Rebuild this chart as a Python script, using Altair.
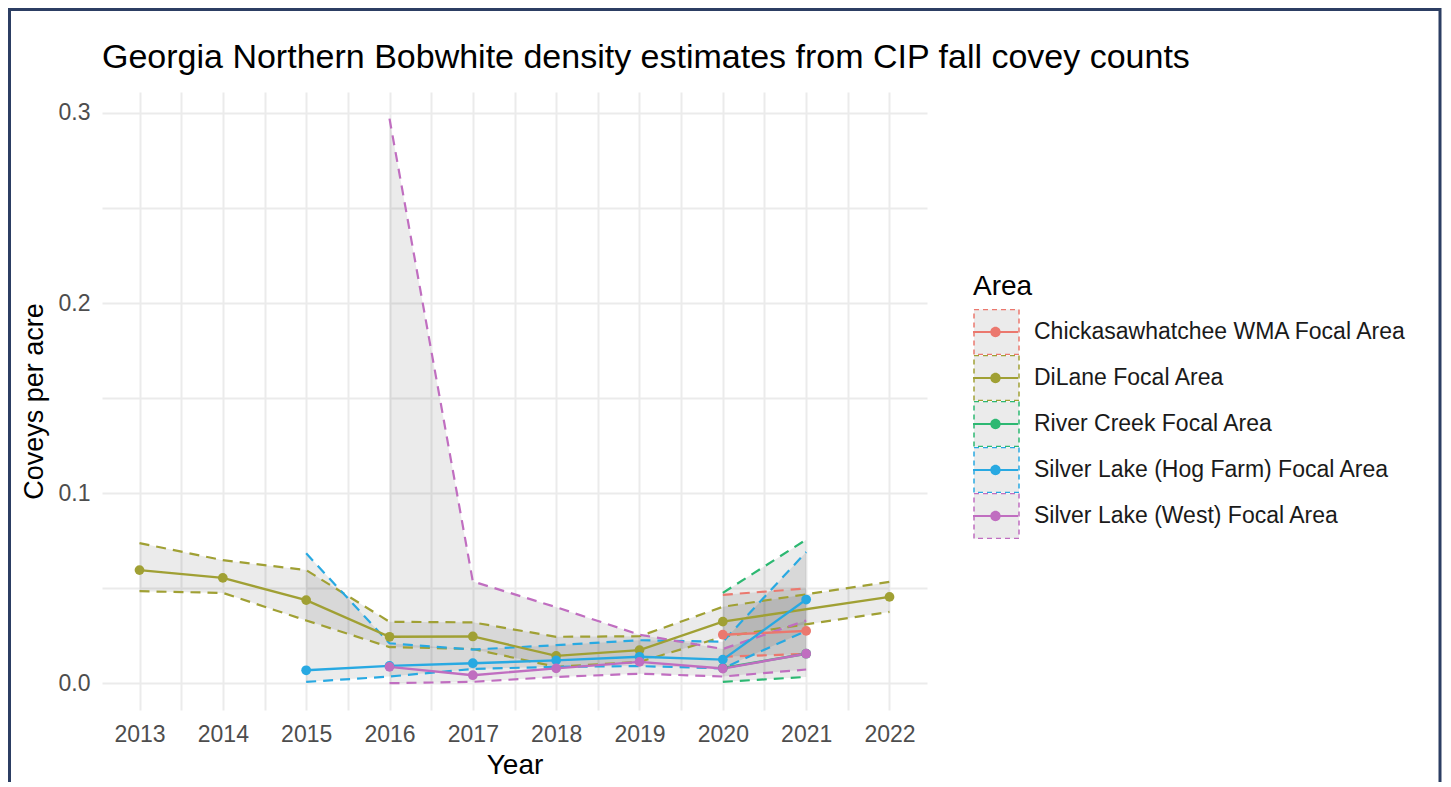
import altair as alt
import pandas as pd

areas = ["Chickasawhatchee WMA Focal Area", "DiLane Focal Area", "River Creek Focal Area",
         "Silver Lake (Hog Farm) Focal Area", "Silver Lake (West) Focal Area"]
colors = ["#EB786E", "#A0A034", "#2DB872", "#28A9E2", "#C06EC0"]

chick_years = [2020, 2021]
chick_est = [0.0255, 0.0275]
chick_lo = [0.0139, 0.0154]
chick_hi = [0.0465, 0.0498]

dilane_years = [2013, 2014, 2015, 2016, 2017, 2018, 2019, 2020, 2022]
dilane_est = [0.0595, 0.0554, 0.0437, 0.0244, 0.0246, 0.0144, 0.0174, 0.0324, 0.0454]
dilane_lo = [0.0484, 0.0475, 0.0330, 0.0190, 0.0180, 0.0086, 0.0112, 0.0244, 0.0375]
dilane_hi = [0.0737, 0.0647, 0.0595, 0.0323, 0.0320, 0.0244, 0.0247, 0.0402, 0.0533]

river_years = [2020, 2021]
river_est = [0.0080, 0.0155]
river_lo = [0.0007, 0.0033]
river_hi = [0.0475, 0.0755]

hog_years = [2015, 2016, 2017, 2018, 2019, 2020, 2021]
hog_est = [0.0068, 0.0091, 0.0105, 0.0120, 0.0139, 0.0124, 0.0440]
hog_lo = [0.0007, 0.0035, 0.0075, 0.0086, 0.0090, 0.0078, 0.0275]
hog_hi = [0.0683, 0.0210, 0.0177, 0.0200, 0.0226, 0.0218, 0.0690]

west_years = [2016, 2017, 2018, 2019, 2020, 2021]
west_est = [0.0086, 0.0042, 0.0078, 0.0112, 0.0077, 0.0155]
west_lo = [0.0000, 0.0007, 0.0033, 0.0050, 0.0035, 0.0072]
west_hi = [0.2970, 0.0535, 0.0400, 0.0255, 0.0180, 0.0330]

x_ticks = [2013, 2013.5, 2014, 2014.5, 2015, 2015.5, 2016, 2016.5, 2017, 2017.5,
           2018, 2018.5, 2019, 2019.5, 2020, 2020.5, 2021, 2021.5, 2022]
y_ticks = [0.0, 0.05, 0.1, 0.15, 0.2, 0.25, 0.3]

series = [
    (areas[0], chick_years, chick_est, chick_lo, chick_hi),
    (areas[1], dilane_years, dilane_est, dilane_lo, dilane_hi),
    (areas[2], river_years, river_est, river_lo, river_hi),
    (areas[3], hog_years, hog_est, hog_lo, hog_hi),
    (areas[4], west_years, west_est, west_lo, west_hi),
]
rows = []
for name, yrs, est, lo, hi in series:
    for i in range(len(yrs)):
        rows.append({"Area": name, "Year": yrs[i], "est": est[i], "lo": lo[i], "hi": hi[i]})
df = pd.DataFrame(rows)
bounds = df.melt(id_vars=["Area", "Year"], value_vars=["lo", "hi"], var_name="Bound", value_name="val")

FONT = "Liberation Sans"
x_scale = alt.Scale(domain=[2012.55, 2022.45], nice=False, zero=False)
y_scale = alt.Scale(domain=[-0.0141, 0.311], nice=False, zero=False)

x_axis = alt.Axis(values=x_ticks, labelExpr="datum.value % 1 === 0 ? format(datum.value, 'd') : ''",
                  title="Year", grid=True, ticks=False, domain=False)
y_axis = alt.Axis(values=y_ticks, labelExpr="round(datum.value * 20) % 2 === 0 ? format(datum.value, '.1f') : ''",
                  title="Coveys per acre", grid=True, ticks=False, domain=False)

X = alt.X("Year:Q", scale=x_scale, axis=x_axis)

base = alt.Chart(df)

ribbon = base.mark_area(color="black", opacity=0.08).encode(
    x=X,
    y=alt.Y("lo:Q", scale=y_scale, axis=y_axis),
    y2="hi:Q",
    detail="Area:N",
)

legend_common = dict(orient="none", legendX=871, legendY=181, rowPadding=0, clipHeight=46,
                     labelOffset=14,
                     labelFont=FONT, labelFontSize=23, labelColor="#1a1a1a", labelLimit=600,
                     titleFont=FONT, titleFontSize=28, titleFontWeight="normal", titleColor="black",
                     titlePadding=8, padding=0, symbolSize=2025)

bound_lines = alt.Chart(bounds).mark_line(strokeDash=[10, 7], strokeWidth=2.2).encode(
    x=X,
    y=alt.Y("val:Q", scale=y_scale, axis=y_axis),
    detail="Bound:N",
    color=alt.Color("Area:N", scale=alt.Scale(domain=areas, range=colors),
                    legend=alt.Legend(title="Area", symbolType="square", symbolFillColor="#ebebeb",
                                      symbolStrokeWidth=1.5, symbolDash=[5, 4], **legend_common)),
)

center = base.mark_line(strokeWidth=2.4).encode(
    x=X,
    y=alt.Y("est:Q", scale=y_scale, axis=y_axis),
    stroke=alt.Stroke("Area:N", scale=alt.Scale(range=colors), legend=None),
)

key_path = ("M-1,-1h0.01v0.01h-0.01Z M0.99,0.99h0.01v0.01h-0.01Z "
            "M-1,-0.045H-0.2V0.045H-1Z M0.2,-0.045H1V0.045H0.2Z "
            "M0.23,0A0.23,0.23,0,1,1,-0.23,0A0.23,0.23,0,1,1,0.23,0Z")

points = base.mark_circle(size=95, opacity=1).encode(
    x=X,
    y=alt.Y("est:Q", scale=y_scale, axis=y_axis),
    fill=alt.Fill("Area:N", scale=alt.Scale(range=colors),
                  legend=alt.Legend(title=" ", symbolType=key_path, symbolStrokeWidth=0,
                                    symbolOpacity=1, labelExpr="''", **legend_common)),
)

frame = alt.Chart(pd.DataFrame({"k": [0]})).mark_rect(
    filled=False, stroke="#2c3e63", strokeWidth=3, clip=False
).encode(x=alt.value(-92.5), x2=alt.value(1338), y=alt.value(-82.5), y2=alt.value(900))

chart = alt.layer(ribbon, bound_lines, center, points, frame).properties(
    width=825, height=618,
    padding={"left": 94, "top": 84, "right": 516, "bottom": 72},
    autosize=alt.AutoSizeParams(type="none"),
    title=alt.TitleParams("Georgia Northern Bobwhite density estimates from CIP fall covey counts",
                          anchor="start", frame="group", font=FONT, fontSize=34,
                          fontWeight="normal", color="black", offset=-67),
).configure_view(stroke=None).configure_axis(
    gridColor="#ebebeb", gridWidth=2,
    labelFont=FONT, labelFontSize=23, labelColor="#4d4d4d", labelPadding=13,
    titleFont=FONT, titleFontSize=28, titleFontWeight="normal", titleColor="black",
).configure_axisX(titlePadding=5).configure_axisY(titlePadding=10, labelPadding=12, titleFontSize=27)

chart.save("out.html", embed_options={"renderer": "svg", "actions": False})
